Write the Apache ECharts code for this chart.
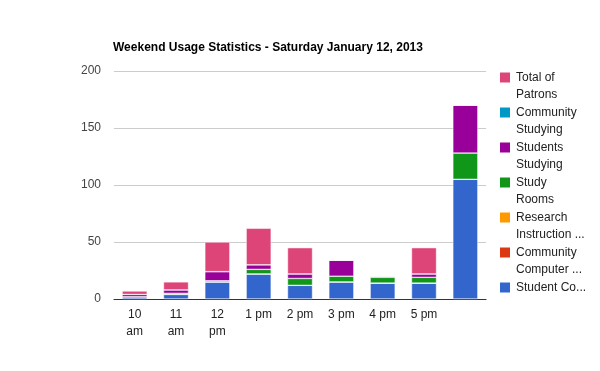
<!DOCTYPE html>
<html>
<head>
<meta charset="utf-8">
<script src="https://cdn.jsdelivr.net/npm/echarts@6/dist/echarts.min.js"></script>
<style>html,body{margin:0;padding:0;background:#fff}#c{width:600px;height:371px}</style>
</head>
<body>
<div id="c"></div>
<script>
var categories = ["10\nam","11\nam","12\npm","1 pm","2 pm","3 pm","4 pm","5 pm",""];
var seriesNames = ["Student Co...","Community\nComputer ...","Research\nInstruction ...","Study\nRooms","Students\nStudying","Community\nStudying","Total of\nPatrons"];
var colors = ["#3366cc","#dc3912","#ff9900","#109618","#990099","#0099c6","#dd4477"];
var studentComputers = [2,4,15,22,12,15,14,14,105];
var communityComputers = [0,0,0,0,0,0,0,0,0];
var researchInstruction = [0,0,0,0,0,0,0,0,0];
var studyRooms = [0,1,1,4,6,5,5,5,23];
var studentsStudying = [2,3,8,4,4,14,1,3,42];
var communityStudying = [0,0,0,0,0,0,0,0,0];
var totalPatrons = [3,7,26,32,23,0,0,23,0];
var yTicks = [0,50,100,150,200];

var values = [studentComputers,communityComputers,researchInstruction,studyRooms,studentsStudying,communityStudying,totalPatrons];
var series = values.map(function(v,i){
  return {name:seriesNames[i],type:'bar',stack:'s',data:v,barWidth:25,
    itemStyle:{color:colors[i],borderColor:'#fff',borderWidth:0.5},
    emphasis:{disabled:true}};
});
var chart = echarts.init(document.getElementById('c'));
chart.setOption({
  animation:false,
  title:{text:'Weekend Usage Statistics - Saturday January 12, 2013',left:108,top:37,
    textStyle:{fontFamily:'Liberation Sans, Arial',fontSize:12,fontWeight:'bold',color:'#000'}},
  grid:{left:114,right:114,top:71,bottom:72},
  legend:{orient:'vertical',left:498,top:52,padding:0,itemGap:-16,itemWidth:12,itemHeight:12,icon:'rect',
    data:seriesNames.slice().reverse(),
    textStyle:{fontFamily:'Liberation Sans, Arial',fontSize:12,color:'#222',lineHeight:17},
    formatter:function(n){return ' \n'+n+(n.indexOf('\n')<0 ? '\n ' : '');}},
  xAxis:{type:'category',data:categories,
    axisLine:{lineStyle:{color:'#333'}},axisTick:{show:false},
    axisLabel:{fontFamily:'Liberation Sans, Arial',fontSize:12,color:'#222',lineHeight:17,margin:7}},
  yAxis:{type:'value',min:0,max:200,interval:50,
    axisLine:{show:false},axisTick:{show:false},
    splitLine:{lineStyle:{color:'#ccc'}},
    axisLabel:{fontFamily:'Liberation Sans, Arial',fontSize:12,color:'#444',margin:13,
      formatter:function(v){return yTicks.indexOf(v)>=0?String(v):'';}}},
  series:series
});
</script>
</body>
</html>
